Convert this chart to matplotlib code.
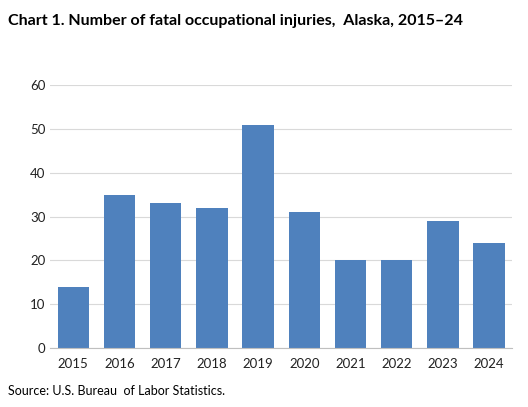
import matplotlib.pyplot as plt

years = ['2015', '2016', '2017', '2018', '2019', '2020', '2021', '2022', '2023', '2024']
fatal_injuries = [14, 35, 33, 32, 51, 31, 20, 20, 29, 24]

plt.rcParams['font.family'] = ['Lato', 'DejaVu Sans']

fig = plt.figure(figsize=(5.28, 4.07), dpi=100)
ax = fig.add_axes([0.095, 0.145, 0.875, 0.646])

ax.bar(years, fatal_injuries, width=0.68, color='#4f81bd', zorder=2)
ax.set_ylim(0, 60)
ax.set_yticks(range(0, 61, 10))
ax.set_xlim(-0.5, len(years) - 0.5)
ax.grid(axis='y', color='#d9d9d9', linewidth=0.8, zorder=0)
for s in ['top', 'right', 'left']:
    ax.spines[s].set_visible(False)
ax.spines['bottom'].set_color('#bfbfbf')
ax.tick_params(axis='both', length=0, labelsize=9.5, colors='#222222')
ax.tick_params(axis='x', pad=7)

fig.text(0.015, 0.965, 'Chart 1. Number of fatal occupational injuries,  Alaska, 2015\u201324',
         fontsize=11.5, fontweight='bold', va='top', ha='left')
fig.text(0.015, 0.04, 'Source: U.S. Bureau  of Labor Statistics.', fontsize=9, va='center', ha='left')

fig.savefig('out.png', dpi=100)
